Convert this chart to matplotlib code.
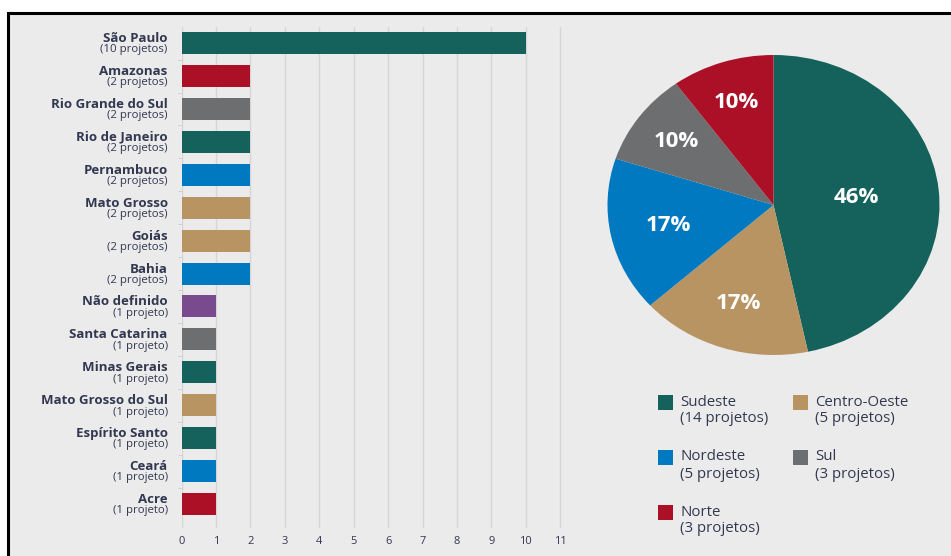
import matplotlib.pyplot as plt
from matplotlib.patches import Rectangle
import matplotlib.transforms as mtransforms
import numpy as np

W, H = 951, 556

estados = ["São Paulo", "Amazonas", "Rio Grande do Sul", "Rio de Janeiro",
           "Pernambuco", "Mato Grosso", "Goiás", "Bahia", "Não definido",
           "Santa Catarina", "Minas Gerais", "Mato Grosso do Sul",
           "Espírito Santo", "Ceará", "Acre"]
projetos = [10, 2, 2, 2, 2, 2, 2, 2, 1, 1, 1, 1, 1, 1, 1]
regiao_estado = ["Sudeste", "Norte", "Sul", "Sudeste", "Nordeste",
                 "Centro-Oeste", "Centro-Oeste", "Nordeste", "Não definido",
                 "Sul", "Sudeste", "Centro-Oeste", "Sudeste", "Nordeste", "Norte"]

regioes = ["Sudeste", "Centro-Oeste", "Nordeste", "Sul", "Norte"]
projetos_regiao = [14, 5, 5, 3, 3]
pct_labels = ["46%", "17%", "17%", "10%", "10%"]

cores = {"Sudeste": "#14625b", "Centro-Oeste": "#b89462", "Nordeste": "#0079c1",
         "Sul": "#6d6e70", "Norte": "#ac1027", "Não definido": "#7a4a8f"}

txt = "#323850"
fonte = "Open Sans"
plt.rcParams["font.family"] = [fonte, "DejaVu Sans"]

fig = plt.figure(figsize=(W / 100, H / 100), dpi=100, facecolor="white")

def px_axes(left, top, width, height):
    return fig.add_axes([left / W, 1 - (top + height) / H, width / W, height / H])

# moldura cinza (fundo)
axbg = fig.add_axes([0, 0, 1, 1], zorder=-5)
axbg.axis("off")
axbg.set_xlim(0, W)
axbg.set_ylim(H, 0)
axbg.add_patch(Rectangle((8, 13), W + 20, H + 20, facecolor="#ebebeb",
                         edgecolor="black", linewidth=2.2, clip_on=False))

# barras por estado
ax = px_axes(181.5, 27, 11.5 * 34.44, 501)
ax.set_facecolor("none")
y = np.arange(len(estados))
ax.barh(y, projetos, height=0.67, color=[cores[r] for r in regiao_estado], zorder=3)
ax.set_xlim(0, 11.5)
ax.set_ylim(len(estados) - 1 + 0.73, -0.49)
ax.set_xticks(range(12))
ax.grid(axis="x", color="#d6d6d6", linewidth=1, zorder=0)
for s in ax.spines.values():
    s.set_visible(False)
ax.tick_params(axis="x", length=0, pad=6, labelsize=8, labelcolor=txt)
ax.set_yticks([])
ax.set_yticks(y[:-1] + 0.5, minor=True)
ax.tick_params(axis="y", which="minor", length=3, color="#cccccc", labelleft=False)

trans = mtransforms.blended_transform_factory(ax.transAxes, ax.transData)
for i, (nome, n) in enumerate(zip(estados, projetos)):
    ax.text(-0.035, i + 0.06, nome, transform=trans, ha="right", va="bottom",
            fontsize=9.5, fontweight="bold", color=txt)
    ax.text(-0.035, i + 0.04, f"({n} projeto{'s' if n > 1 else ''})", transform=trans,
            ha="right", va="top", fontsize=8.2, color=txt)

# pizza por região
axp = px_axes(607.5, 55, 332, 300)
wedges, _ = axp.pie(projetos_regiao, colors=[cores[r] for r in regioes],
                    startangle=90, counterclock=False)
axp.set_aspect("auto")
axp.set_xlim(-1, 1)
axp.set_ylim(-1, 1)
raios = [0.50, 0.69, 0.65, 0.72, 0.72]
for w, lab, r in zip(wedges, pct_labels, raios):
    ang = np.deg2rad((w.theta1 + w.theta2) / 2)
    axp.text(r * np.cos(ang), r * np.sin(ang), lab, ha="center", va="center",
             color="white", fontsize=16, fontweight="bold")

# legenda
axl = px_axes(600, 370, 351, 186)
axl.set_xlim(0, 351)
axl.set_ylim(186, 0)
axl.axis("off")
for i, (reg, n) in enumerate(zip(regioes, projetos_regiao)):
    col, row = i % 2, i // 2
    x0 = 58 + col * 135
    y0 = 32 + row * 55
    axl.add_patch(Rectangle((x0, y0 - 7.5), 15, 15, facecolor=cores[reg]))
    axl.text(x0 + 22, y0, reg, va="center", ha="left", fontsize=10.8, color=txt)
    axl.text(x0 + 22, y0 + 17, f"({n} projetos)", va="center", ha="left",
             fontsize=10.8, color=txt)

fig.savefig("out.png", dpi=100, facecolor="white")
